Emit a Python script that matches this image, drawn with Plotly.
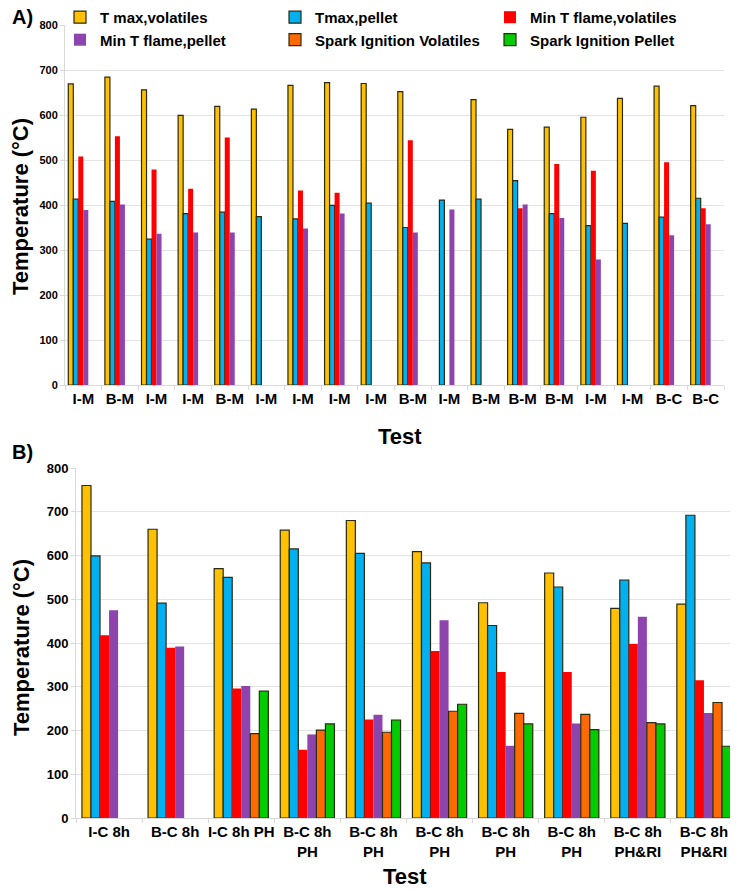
import plotly.graph_objects as go

series_names = ["T max,volatiles", "Tmax,pellet", "Min T flame,volatiles",
                "Min T flame,pellet", "Spark Ignition Volatiles", "Spark Ignition Pellet"]
colors = ["#FFC000", "#00B0F0", "#FF0000", "#8E44AD", "#FF6A00", "#00CC00"]
outlined = [True, True, False, False, True, True]

# Panel A
labels_a = ["I-M", "B-M", "I-M", "I-M", "B-M", "I-M", "I-M", "I-M", "I-M",
            "B-M", "I-M", "B-M", "B-M", "B-M", "I-M", "I-M", "B-C", "B-C"]
a_tmax_vol = [669, 684, 656, 599, 619, 613, 666, 672, 670, 652, None, 634, 568, 573, 595, 637, 664, 621]
a_tmax_pel = [413, 408, 324, 381, 384, 374, 369, 399, 404, 350, 411, 413, 454, 381, 354, 359, 373, 415]
a_min_vol = [508, 553, 479, 436, 550, None, 432, 427, None, 544, None, None, 393, 491, 476, None, 495, 393]
a_min_pel = [389, 401, 336, 339, 339, None, 348, 381, None, 339, 390, None, 401, 371, 279, None, 333, 357]
a_spark_vol = [None] * 18
a_spark_pel = [None] * 18

# Panel B
labels_b = ["I-C 8h", "B-C 8h", "I-C 8h PH", "B-C 8h<br>PH", "B-C 8h<br>PH", "B-C 8h<br>PH",
            "B-C 8h<br>PH", "B-C 8h<br>PH", "B-C 8h<br>PH&RI", "B-C 8h<br>PH&RI"]
b_tmax_vol = [760, 660, 570, 658, 680, 609, 492, 560, 479, 489]
b_tmax_pel = [599, 491, 550, 615, 605, 583, 440, 528, 544, 692]
b_min_vol = [418, 389, 296, 156, 225, 382, 334, 334, 398, 315]
b_min_pel = [475, 392, 302, 191, 236, 452, 165, 216, 460, 240]
b_spark_vol = [None, None, 193, 201, 196, 244, 239, 237, 218, 264]
b_spark_pel = [None, None, 290, 215, 224, 260, 215, 202, 215, 164]

y_ticks = [0, 100, 200, 300, 400, 500, 600, 700, 800]

FONT = "Arial, Liberation Sans, sans-serif"
W, H = 730, 881  # page shows the figure offset by the 8px body margin

fig = go.Figure()

xa = [f"a{i}" for i in range(len(labels_a))]
xb = [f"b{i}" for i in range(len(labels_b))]
data_a = [a_tmax_vol, a_tmax_pel, a_min_vol, a_min_pel, a_spark_vol, a_spark_pel]
data_b = [b_tmax_vol, b_tmax_pel, b_min_vol, b_min_pel, b_spark_vol, b_spark_pel]

for i in range(6):
    line = dict(color="#2b2b10", width=1.2) if outlined[i] else dict(width=0)
    fig.add_trace(go.Bar(x=xa, y=data_a[i], name=series_names[i], marker=dict(color=colors[i], line=line),
                         xaxis="x", yaxis="y", legendgroup=str(i), showlegend=True))
for i in range(6):
    line = dict(color="#2b2b10", width=1.2) if outlined[i] else dict(width=0)
    fig.add_trace(go.Bar(x=xb, y=data_b[i], name=series_names[i], marker=dict(color=colors[i], line=line),
                         xaxis="x2", yaxis="y2", legendgroup=str(i), showlegend=False))

axis_common = dict(showline=True, linecolor="#d9d9d9", linewidth=1, ticks="outside",
                   tickcolor="#d9d9d9", ticklen=4, automargin=False)

def px_x(p):
    return (p - 8) / W

def px_y(p):
    return 1 - (p - 8) / H

fig.update_layout(
    width=W, height=H,
    margin=dict(l=0, r=0, t=0, b=0, pad=0, autoexpand=False),
    paper_bgcolor="white", plot_bgcolor="white",
    barmode="group", bargap=0.18,
    font=dict(family=FONT, color="black"),
    xaxis=dict(domain=[px_x(65), px_x(724)], anchor="y", type="category", tickangle=0,
               tickmode="array", tickvals=xa, ticktext=labels_a, tickson="boundaries",
               tickfont=dict(size=15, family=FONT, weight="bold"), **axis_common),
    yaxis=dict(domain=[px_y(385), px_y(25)], anchor="x", range=[0, 800], tickvals=y_ticks,
               showgrid=True, gridcolor="#e3e3e3", zeroline=False,
               tickfont=dict(size=11, family=FONT, weight="bold"), **axis_common),
    xaxis2=dict(domain=[px_x(76), px_x(737)], anchor="y2", type="category", tickangle=0,
                tickmode="array", tickvals=xb, ticktext=labels_b, tickson="boundaries",
                tickfont=dict(size=15, family=FONT, weight="bold"), **axis_common),
    yaxis2=dict(domain=[px_y(818), px_y(468)], anchor="x2", range=[0, 800], tickvals=y_ticks,
                showgrid=True, gridcolor="#e3e3e3", zeroline=False,
                tickfont=dict(size=13, family=FONT, weight="bold"), **axis_common),
    legend=dict(orientation="h", x=px_x(60), y=1.008, xanchor="left", yanchor="top",
                entrywidth=170, entrywidthmode="pixels", bgcolor="rgba(0,0,0,0)",
                font=dict(size=15, family=FONT, weight="bold"), itemwidth=30,
                tracegroupgap=0, traceorder="normal"),
)

annotations = [
    dict(text="A)", x=px_x(10), y=px_y(17), xanchor="left", yanchor="middle", font=dict(size=20)),
    dict(text="B)", x=px_x(10), y=px_y(452), xanchor="left", yanchor="middle", font=dict(size=20)),
    dict(text="Temperature (°C)", x=px_x(21), y=px_y(207), textangle=-90, xanchor="center", yanchor="middle",
         font=dict(size=22)),
    dict(text="Temperature (°C)", x=px_x(21), y=px_y(648), textangle=-90, xanchor="center", yanchor="middle",
         font=dict(size=22)),
    dict(text="Test", x=px_x(400), y=px_y(436), xanchor="center", yanchor="middle", font=dict(size=22)),
    dict(text="Test", x=px_x(405), y=px_y(876), xanchor="center", yanchor="middle", font=dict(size=22)),
]
for a in annotations:
    a.update(xref="paper", yref="paper", showarrow=False)
    a["font"].update(family=FONT, weight="bold", color="black")
fig.update_layout(annotations=annotations)

fig.write_html("out.html")
